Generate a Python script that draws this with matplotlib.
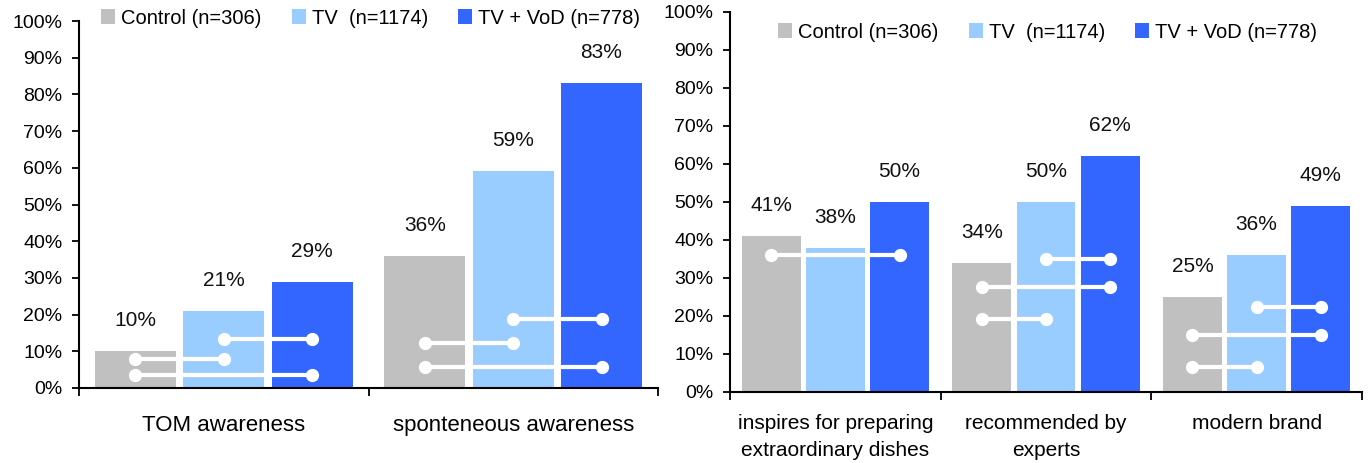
import matplotlib.pyplot as plt
from matplotlib.patches import Patch

plt.rcParams["font.family"] = ["Liberation Sans", "DejaVu Sans"]

series = ["Control (n=306)", "TV  (n=1174)", "TV + VoD (n=778)"]
colors = ["#C0C0C0", "#99CCFF", "#3366FF"]

awareness_categories = ["TOM awareness", "sponteneous awareness"]
awareness_control = [10, 36]
awareness_tv = [21, 59]
awareness_tv_vod = [29, 83]

image_categories = ["inspires for preparing\nextraordinary dishes",
                    "recommended by\nexperts", "modern brand"]
image_control = [41, 34, 25]
image_tv = [38, 50, 36]
image_tv_vod = [50, 62, 49]

# significance connectors: (category, from series, to series, level in %)
awareness_links = [(0, 1, 2, 13.3), (0, 0, 1, 7.9), (0, 0, 2, 3.5),
                   (1, 1, 2, 18.8), (1, 0, 1, 12.3), (1, 0, 2, 5.7)]
image_links = [(0, 0, 2, 36.0),
               (1, 1, 2, 35.0), (1, 0, 2, 27.6), (1, 0, 1, 19.2),
               (2, 1, 2, 22.4), (2, 0, 2, 15.0), (2, 0, 1, 6.6)]

BAR_W = 0.28
STEP = 0.305


def draw_panel(ax, categories, values, links, cat_fs, cat_va, cat_off):
    n = len(categories)
    for s, vals in enumerate(values):
        xs = [c + 0.5 + (s - 1) * STEP for c in range(n)]
        ax.bar(xs, vals, width=BAR_W, color=colors[s], linewidth=0, zorder=2)
        for x, v in zip(xs, vals):
            ax.annotate(f"{v}%", (x, v), xytext=(0, 22), textcoords="offset points",
                        ha="center", va="center", fontsize=15, color="#111111")

    for c, a, b, lvl in links:
        x1 = c + 0.5 + (a - 1) * STEP
        x2 = c + 0.5 + (b - 1) * STEP
        ax.plot([x1, x2], [lvl, lvl], color="white", lw=3, marker="o", ms=8.5,
                solid_capstyle="butt", zorder=3)

    for c, name in enumerate(categories):
        ax.annotate(name, (c + 0.5, 0), xycoords=("data", "axes fraction"),
                    xytext=(0, cat_off), textcoords="offset points",
                    ha="center", va=cat_va, fontsize=cat_fs, linespacing=1.5)

    ax.set_xlim(0, n)
    ax.set_ylim(0, 100)
    ax.set_xticks(range(n + 1))
    ax.set_xticklabels([])
    ax.set_yticks(range(0, 101, 10))
    ax.set_yticklabels([f"{t}%" for t in range(0, 101, 10)], fontsize=14)
    ax.tick_params(axis="y", direction="out", length=5, width=1.3, pad=7)
    ax.tick_params(axis="x", direction="out", length=6, width=1.3)
    for side in ("top", "right"):
        ax.spines[side].set_visible(False)
    for side in ("left", "bottom"):
        ax.spines[side].set_linewidth(1.5)
        ax.spines[side].set_color("black")


fig = plt.figure(figsize=(13.72, 4.63), dpi=100)
ax1 = fig.add_axes([79 / 1372, 1 - 388 / 463, 579 / 1372, 367 / 463])
ax2 = fig.add_axes([730 / 1372, 1 - 392 / 463, 632 / 1372, 380 / 463])

draw_panel(ax1, awareness_categories,
           [awareness_control, awareness_tv, awareness_tv_vod],
           awareness_links, 16, "center", -27)
draw_panel(ax2, image_categories,
           [image_control, image_tv, image_tv_vod],
           image_links, 15, "top", -16)

handles = [Patch(facecolor=c, edgecolor="none") for c in colors]
for x0, y0 in [(101 / 1372, 1 - 18 / 463), (778 / 1372, 1 - 32 / 463)]:
    fig.legend(handles, series, loc="center left", bbox_to_anchor=(x0, y0),
               ncol=3, frameon=False, fontsize=14.5, handlelength=0.7,
               handleheight=0.7, handletextpad=0.3, columnspacing=1.5,
               borderpad=0, borderaxespad=0)

fig.savefig("out.png", dpi=100)
